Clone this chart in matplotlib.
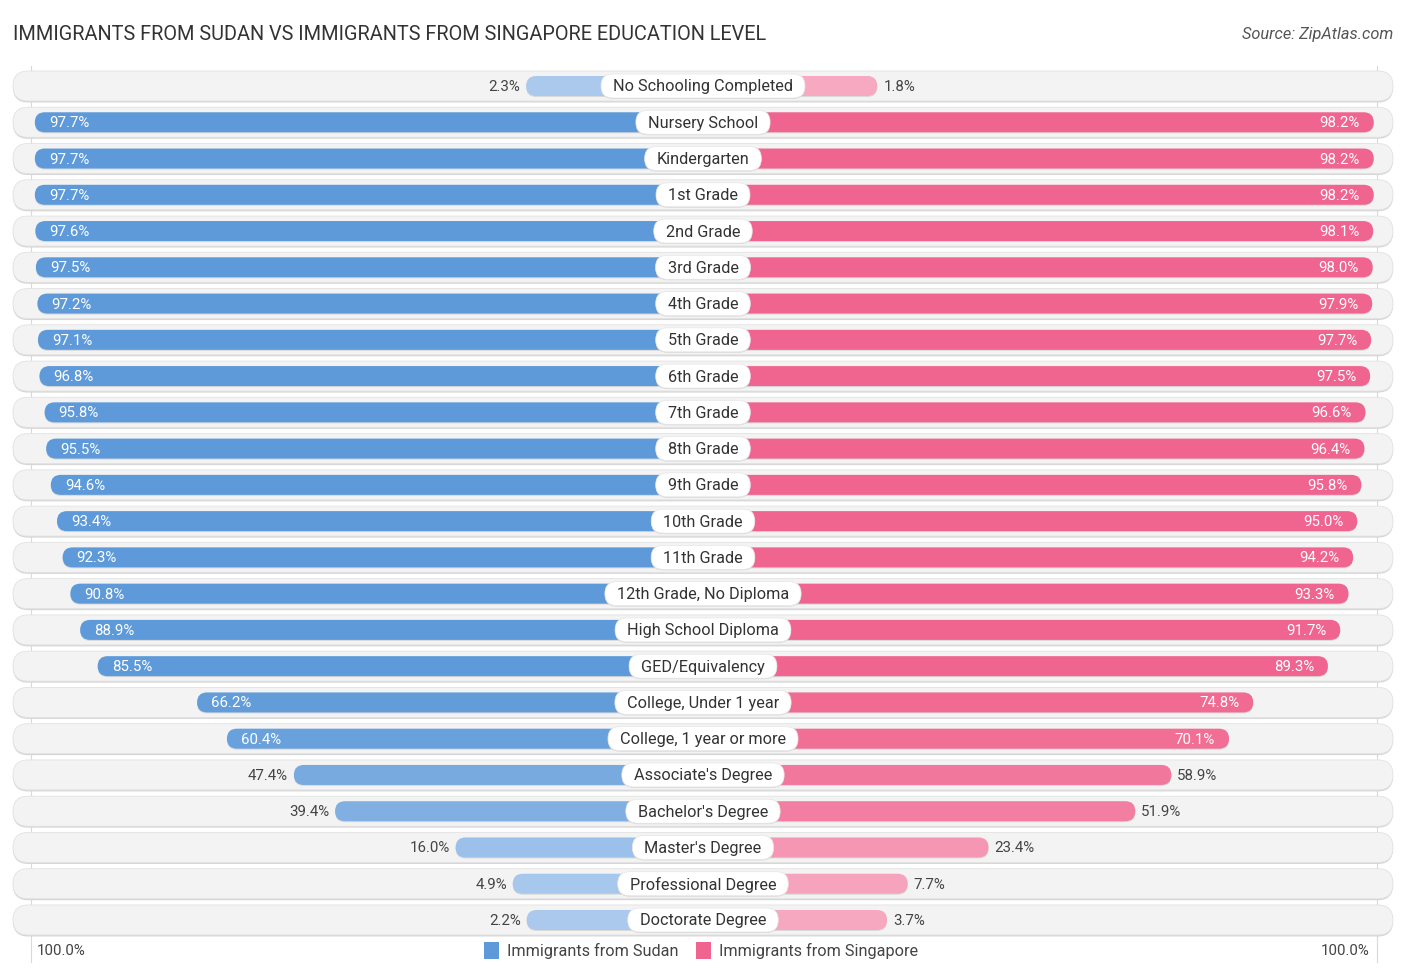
import numpy as np
import matplotlib
matplotlib.use("Agg")
import matplotlib.pyplot as plt
from matplotlib.patches import FancyBboxPatch, Rectangle
from matplotlib.colors import to_rgb

plt.rcParams["font.family"] = ["Roboto", "DejaVu Sans"]

categories = ["No Schooling Completed", "Nursery School", "Kindergarten", "1st Grade",
              "2nd Grade", "3rd Grade", "4th Grade", "5th Grade", "6th Grade",
              "7th Grade", "8th Grade", "9th Grade", "10th Grade", "11th Grade",
              "12th Grade, No Diploma", "High School Diploma", "GED/Equivalency",
              "College, Under 1 year", "College, 1 year or more", "Associate's Degree",
              "Bachelor's Degree", "Master's Degree", "Professional Degree",
              "Doctorate Degree"]
sudan = [2.3, 97.7, 97.7, 97.7, 97.6, 97.5, 97.2, 97.1, 96.8, 95.8, 95.5, 94.6,
         93.4, 92.3, 90.8, 88.9, 85.5, 66.2, 60.4, 47.4, 39.4, 16.0, 4.9, 2.2]
singapore = [1.8, 98.2, 98.2, 98.2, 98.1, 98.0, 97.9, 97.7, 97.5, 96.6, 96.4, 95.8,
             95.0, 94.2, 93.3, 91.7, 89.3, 74.8, 70.1, 58.9, 51.9, 23.4, 7.7, 3.7]
series_names = ["Immigrants from Sudan", "Immigrants from Singapore"]

BLUE = "#5e9ad9"; BLUE_L = "#adcbee"
PINK = "#f0658f"; PINK_L = "#f7abc3"
W, H = 1406, 975
CX = 703          # centre of the chart in pixels
BASE = 165        # bar part hidden under the label
SCALE = 5.15      # pixels per percent
Y0, DY = 86, 36.26
ROW_H, BAR_H, LAB_H = 30, 20, 24
TY = 1.0          # small downward nudge so text sits on the row centre


def mix(c1, c2, t):
    a, b = np.array(to_rgb(c1)), np.array(to_rgb(c2))
    return tuple(a + (b - a) * t)


def pill(ax, x0, x1, yc, h, **kw):
    r = h / 2
    p = FancyBboxPatch((x0 + r, yc - h / 2 + r), max(x1 - x0 - 2 * r, 0.01), h - 2 * r,
                       boxstyle=f"round,pad={r},rounding_size={r}", **kw)
    ax.add_patch(p)
    return p


fig = plt.figure(figsize=(W / 100, H / 100), dpi=100)
ax = fig.add_axes([0, 0, 1, 1])
ax.set_xlim(0, W); ax.set_ylim(H, 0)
ax.axis("off")
renderer = fig.canvas.get_renderer()

ax.text(13, 34, "IMMIGRANTS FROM SUDAN VS IMMIGRANTS FROM SINGAPORE EDUCATION LEVEL",
        fontsize=14.3, color="#333333", va="center", ha="left")
ax.text(1393, 34, "Source: ZipAtlas.com", fontsize=11.8, color="#555555",
        va="center", ha="right", style="italic")

ax.plot([31, 31], [66, 962], color="#d9d9d9", lw=0.8, zorder=0)
ax.plot([1377, 1377], [66, 962], color="#d9d9d9", lw=0.8, zorder=0)

for i, cat in enumerate(categories):
    yc = Y0 + i * DY
    # row background with soft shadow
    pill(ax, 13, 1393, yc + 1.5, ROW_H, fc="#d6d6d6", ec="none", zorder=1)
    pill(ax, 13, 1393, yc, ROW_H, fc="#f3f3f3", ec="#e2e2e2", lw=0.6, zorder=2)

    ls, rs = sudan[i], singapore[i]
    lx = CX - (BASE + SCALE * ls)
    rx = CX + (BASE + SCALE * rs)
    lc = mix(BLUE_L, BLUE, min(ls / 70, 1))
    rc = mix(PINK_L, PINK, min(rs / 80, 1))
    pill(ax, lx, CX + 10, yc + 1, BAR_H, fc="#c8c8c8", ec="none", zorder=3, alpha=0.6)
    pill(ax, CX - 10, rx, yc + 1, BAR_H, fc="#c8c8c8", ec="none", zorder=3, alpha=0.6)
    pill(ax, lx, CX + 10, yc, BAR_H, fc=lc, ec="none", zorder=4)
    pill(ax, CX - 10, rx, yc, BAR_H, fc=rc, ec="none", zorder=4)

    if ls >= 60:
        ax.text(lx + 14, yc + TY, f"{ls:.1f}%", color="white", fontsize=10.8,
                va="center", ha="left", zorder=6)
    else:
        ax.text(lx - 6, yc + TY, f"{ls:.1f}%", color="#444444", fontsize=10.8,
                va="center", ha="right", zorder=6)
    if rs >= 60:
        ax.text(rx - 14, yc + TY, f"{rs:.1f}%", color="white", fontsize=10.8,
                va="center", ha="right", zorder=6)
    else:
        ax.text(rx + 6, yc + TY, f"{rs:.1f}%", color="#444444", fontsize=10.8,
                va="center", ha="left", zorder=6)

    t = ax.text(CX, yc + TY, cat, fontsize=11.7, color="#333333", va="center",
                ha="center", zorder=8)
    tw = t.get_window_extent(renderer).width
    pill(ax, CX - tw / 2 - 12, CX + tw / 2 + 12, yc + 1, LAB_H, fc="#cfcfcf",
         ec="none", zorder=6, alpha=0.7)
    pill(ax, CX - tw / 2 - 12, CX + tw / 2 + 12, yc, LAB_H, fc="white",
         ec="#e6e6e6", lw=0.5, zorder=7)

# bottom axis labels and legend
ax.text(37, 951, "100.0%", fontsize=10.8, color="#444444", va="center", ha="left")
ax.text(1370, 951, "100.0%", fontsize=10.8, color="#444444", va="center", ha="right")
ax.add_patch(Rectangle((484, 942), 15, 17, fc=BLUE, ec="none"))
ax.text(507, 951, series_names[0], fontsize=11.7, color="#444444", va="center", ha="left")
ax.add_patch(Rectangle((696, 942), 15, 17, fc=PINK, ec="none"))
ax.text(719, 951, series_names[1], fontsize=11.7, color="#444444", va="center", ha="left")

fig.savefig("out.png", dpi=100, facecolor="white")
